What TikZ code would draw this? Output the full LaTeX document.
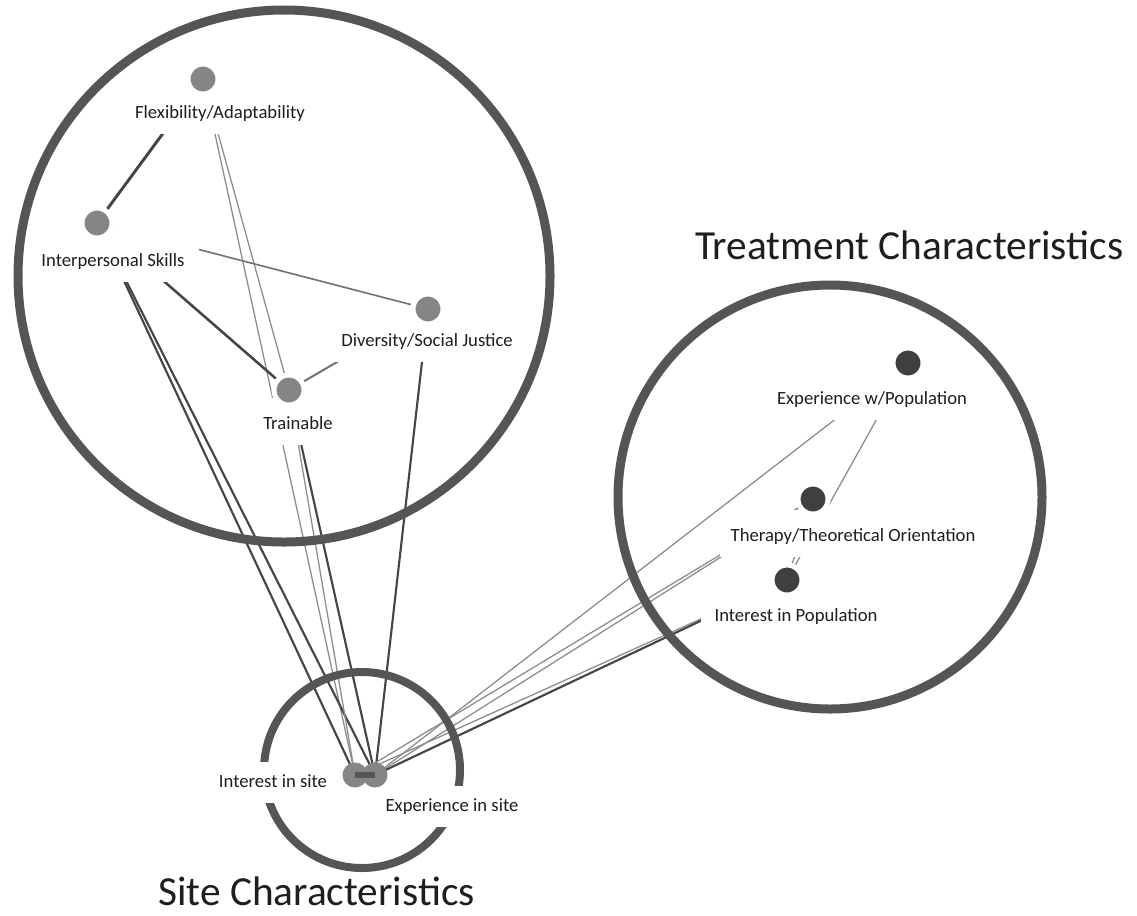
\documentclass[tikz,border=0pt]{standalone}
\usepackage{fontspec}
\setmainfont{Carlito}
\definecolor{ringc}{HTML}{555555}
\definecolor{dotA}{HTML}{858585}
\definecolor{dotB}{HTML}{3F3F3F}
\definecolor{edark}{HTML}{454545}
\definecolor{egray}{HTML}{8C8C8C}
\definecolor{emid}{HTML}{727272}
\definecolor{txt}{HTML}{1E1E1E}
\begin{document}
\begin{tikzpicture}[x=0.75pt,y=-0.75pt,
  edgedark/.style={draw=edark,line width=1.6pt},
  edgegray/.style={draw=egray,line width=0.95pt},
  edgemid/.style={draw=emid,line width=1.2pt},
  group/.style={draw=ringc,line width=6.75pt},
  lbl/.style={fill=white,text=txt,font=\fontsize{14}{16}\selectfont,anchor=base,inner xsep=10.5pt,inner ysep=8.125pt,text height=16pt,text depth=3pt},
  lbltall/.style={lbl,text height=21.6pt},
  lblmid/.style={lbl,text height=18.6pt},
  lblsite/.style={lbl,text height=11pt},
  dotlight/.style={circle,fill=dotA,draw=white,line width=3.75pt,inner sep=0pt,minimum size=22.5pt},
  dotdark/.style={circle,fill=dotB,draw=white,line width=3.75pt,inner sep=0pt,minimum size=22.5pt},
  dotsite/.style={circle,fill=dotA,inner sep=0pt,minimum size=18.75pt},
  title/.style={text=txt,font=\fontsize{31}{37}\selectfont,inner sep=0pt,text depth=0pt,anchor=base west}]
\fill[white] (0,0) rectangle (1137,915);
\useasboundingbox (0,0) rectangle (1137,915);
% node centres
\coordinate (flex) at (203,79);
\coordinate (inter) at (97,223);
\coordinate (div) at (428,309);
\coordinate (train) at (289,390);
\coordinate (exppop) at (908,363);
\coordinate (ther) at (813,499);
\coordinate (intpop) at (787,580);
\coordinate (isite) at (355,775);
\coordinate (esite) at (375,775);
% edges
\draw[edgedark,line width=2.2pt] (flex) -- (inter);
\draw[edgegray] (flex) -- (train);
\draw[edgegray] (flex) -- (isite);
\draw[edgemid] (inter) -- (div);
\draw[edgedark,line width=1.9pt] (inter) -- (train);
\draw[edgedark] (inter) -- (isite);
\draw[edgedark] (inter) -- (esite);
\draw[edgemid,line width=1.5pt] (div) -- (train);
\draw[edgedark] (div) -- (esite);
\draw[edgegray] (train) -- (isite);
\draw[edgedark] (train) -- (esite);
\draw[edgegray] (exppop) -- (intpop);
\draw[edgegray] (ther) -- (intpop);
\draw[edgegray] (exppop) -- (esite);
\draw[edgegray] (ther) -- (isite);
\draw[edgegray] (ther) -- (esite);
\draw[edgegray] (intpop) -- (isite);
\draw[edgedark] (intpop) -- (esite);
% site group outline (partly hidden by labels)
\draw[group,line width=6pt] (362,770) circle[radius=73.5pt];
% labels (placed at their baselines)
\node[lbl] (lflex) at (220,118.7) {Flexibility/Adaptability};
\node[lbltall] (linter) at (113,266.7) {Interpersonal Skills};
\node[lbl] (ldiv) at (427,346.7) {Diversity/Social Justice};
\node[lbl] (ltrain) at (298,429.7) {Trainable};
\node[lbl] (lexppop) at (872,404.7) {Experience w/Population};
\node[lbl,inner xsep=8pt] (lther) at (853,541.7) {Therapy/Theoretical Orientation};
\node[lblmid] (lintpop) at (796,621.7) {Interest in Population};
\node[lblsite] (lisite) at (273,787.7) {Interest in site};
\node[lblsite] (lesite) at (452,811.7) {Experience in site};
% group outlines
\draw[group] (284,276) circle[radius=199.5pt];
\draw[group] (830,497) circle[radius=159pt];
% dots
\node[dotlight] (nflex) at (flex) {};
\node[dotlight] (ninter) at (inter) {};
\node[dotlight] (ndiv) at (div) {};
\node[dotlight] (ntrain) at (train) {};
\node[dotdark] (nexppop) at (exppop) {};
\node[dotdark] (nther) at (ther) {};
\node[dotdark] (nintpop) at (intpop) {};
\node[dotsite] (nisite) at (isite) {};
\node[dotsite] (nesite) at (esite) {};
\draw[draw=ringc,line width=5pt] (nisite.center) -- (nesite.center);
% titles
\node[title] (ttreat) at (695,259) {Treatment Characteristics};
\node[title] (tsite) at (158,905) {Site Characteristics};
\end{tikzpicture}
\end{document}
